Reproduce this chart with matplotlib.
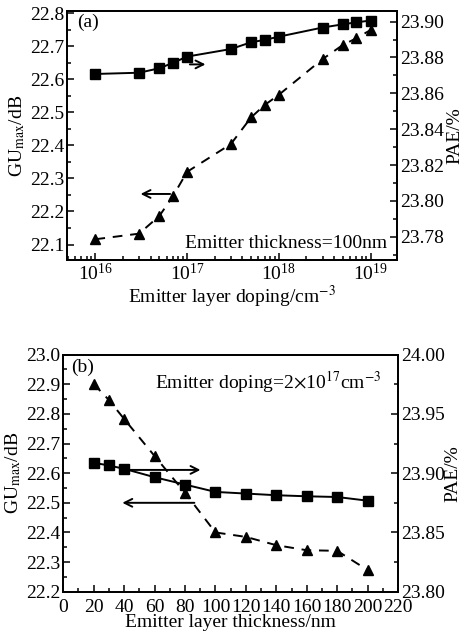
import numpy as np
import matplotlib
matplotlib.use("Agg")
import matplotlib.pyplot as plt
from matplotlib.ticker import MultipleLocator, LogLocator, NullFormatter

plt.rcParams['font.family'] = ['Liberation Serif', 'DejaVu Serif']
plt.rcParams['mathtext.fontset'] = 'stix'
plt.rcParams['font.size'] = 14

# (a) emitter doping sweep, thickness = 100 nm
doping = [1e16, 3e16, 5e16, 7e16, 1e17, 3e17, 5e17, 7e17, 1e18, 3e18, 5e18, 7e18, 1e19]
gu_a = [22.116, 22.133, 22.187, 22.246, 22.320, 22.404, 22.485, 22.522, 22.553,
        22.661, 22.704, 22.724, 22.749]
pae_a = [23.8708, 23.8715, 23.8740, 23.8770, 23.8805, 23.8847, 23.8885, 23.8898,
         23.8916, 23.8967, 23.8985, 23.8996, 23.9006]

# (b) emitter thickness sweep, doping = 2e17 cm^-3
thickness = [20, 30, 40, 60, 80, 100, 120, 140, 160, 180, 200]
gu_b = [22.901, 22.847, 22.783, 22.658, 22.534, 22.400, 22.385, 22.357, 22.340,
        22.338, 22.273]
pae_b = [23.9088, 23.9065, 23.9037, 23.8966, 23.8904, 23.8842, 23.8828, 23.8814,
         23.8805, 23.8799, 23.8768]


def style(ax):
    ax.tick_params(which='both', direction='in', top=False, labelsize=14, pad=2)
    ax.tick_params(which='major', length=5, width=1.1)
    ax.tick_params(which='minor', length=3, width=1.1)
    for s in ax.spines.values():
        s.set_linewidth(1.3)


fig = plt.figure(figsize=(4.65, 6.39), dpi=100)

# ---- panel (a)
ax1 = fig.add_axes([0.144, 0.593, 0.710, 0.390])
ax1.plot(doping, gu_a, 'k--^', lw=1.4, ms=7.5, dashes=(5, 4))
ax1.set_xscale('log')
ax1.set_xlim(10**15.69, 10**19.29)
ax1.set_ylim(22.053, 22.807)
ax1.yaxis.set_major_locator(MultipleLocator(0.1))
ax1.yaxis.set_minor_locator(MultipleLocator(0.05))
ax1.xaxis.set_major_locator(LogLocator(base=10, numticks=10))
ax1.xaxis.set_minor_locator(LogLocator(base=10, subs=np.arange(2, 10), numticks=20))
ax1.xaxis.set_minor_formatter(NullFormatter())
ax1.set_ylabel('GU$_{\\rm max}$/dB', labelpad=2)
ax1.set_xlabel('Emitter layer doping/cm$^{-3}$', labelpad=0)
style(ax1)
ax1r = ax1.twinx()
ax1r.plot(doping, pae_a, 'k-s', lw=1.4, ms=6.5)
ax1r.set_ylim(23.767, 23.906)
ax1r.yaxis.set_major_locator(MultipleLocator(0.02))
ax1r.yaxis.set_minor_locator(MultipleLocator(0.01))
ax1r.yaxis.set_major_formatter(plt.FormatStrFormatter('%.2f'))
ax1r.set_ylabel('PAE/%', labelpad=2)
style(ax1r)
ax1.annotate('', xy=(1.7e17, 22.645), xytext=(1.0e17, 22.645),
             arrowprops=dict(arrowstyle='->', color='k', lw=1.4))
ax1.annotate('', xy=(2.9e16, 22.253), xytext=(7.0e16, 22.253),
             arrowprops=dict(arrowstyle='->', color='k', lw=1.4))
ax1.text(0.03, 0.935, '(a)', transform=ax1.transAxes, fontsize=14)
ax1.text(0.97, 0.05, 'Emitter thickness=100nm', transform=ax1.transAxes,
         fontsize=14, ha='right')

# ---- panel (b)
ax2 = fig.add_axes([0.136, 0.074, 0.720, 0.371])
ax2.plot(thickness, gu_b, 'k--^', lw=1.4, ms=7.5, dashes=(5, 4))
ax2.set_xlim(0, 220)
ax2.set_ylim(22.2, 23.0)
ax2.xaxis.set_major_locator(MultipleLocator(20))
ax2.xaxis.set_minor_locator(MultipleLocator(10))
ax2.yaxis.set_major_locator(MultipleLocator(0.1))
ax2.yaxis.set_minor_locator(MultipleLocator(0.05))
ax2.yaxis.set_major_formatter(plt.FormatStrFormatter('%.1f'))
ax2.set_ylabel('GU$_{\\rm max}$/dB', labelpad=2)
ax2.set_xlabel('Emitter layer thickness/nm', labelpad=-1)
style(ax2)
ax2.tick_params(axis='x', which='both', pad=5)
ax2r = ax2.twinx()
ax2r.plot(thickness, pae_b, 'k-s', lw=1.4, ms=6.5)
ax2r.set_ylim(23.80, 24.00)
ax2r.yaxis.set_major_locator(MultipleLocator(0.05))
ax2r.yaxis.set_minor_locator(MultipleLocator(0.025))
ax2r.yaxis.set_major_formatter(plt.FormatStrFormatter('%.2f'))
ax2r.set_ylabel('PAE/%', labelpad=0)
style(ax2r)
ax2.annotate('', xy=(92, 22.611), xytext=(40, 22.611),
             arrowprops=dict(arrowstyle='->', color='k', lw=1.4))
ax2.annotate('', xy=(37, 22.500), xytext=(88, 22.500),
             arrowprops=dict(arrowstyle='->', color='k', lw=1.4))
ax2.text(0.025, 0.925, '(b)', transform=ax2.transAxes, fontsize=14)
ax2.text(0.95, 0.855, 'Emitter doping=2$\\times$10$^{17}$cm$^{-3}$',
         transform=ax2.transAxes, fontsize=14, ha='right')

fig.savefig('out.png', dpi=100)
